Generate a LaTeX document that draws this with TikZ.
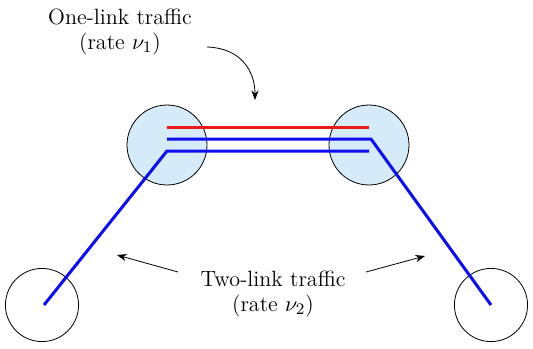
\documentclass[tikz,border=0pt]{standalone}
\usepackage{amsmath}
\usepackage{tikz}
\usetikzlibrary{positioning, arrows.meta, calc}
\definecolor{nodefill}{rgb}{0.84, 0.92, 0.98}
\definecolor{linkred}{rgb}{0.93, 0.10, 0.10}
\definecolor{linkblue}{rgb}{0.05, 0.05, 0.95}

\begin{document}
\begin{tikzpicture}[
    x=0.0175cm, y=-0.0175cm,
    every node/.style={font=\fontsize{11}{12.5}\selectfont, align=center},
    core/.style ={circle, draw=black, fill=nodefill, thin, minimum size=1.4cm, inner sep=0pt},
    edge/.style ={circle, draw=black, fill=white, thin, minimum size=1.28cm, inner sep=0pt},
    onelink/.style={draw=linkred, line width=1.5pt},
    twolink/.style={draw=linkblue, line width=1.5pt},
    arrow/.style ={-Stealth, thin, draw=black}
]
\useasboundingbox (0,0) rectangle (533,348);

% Nodes (circles)
\node[core] (lt) at (167,145) {};
\node[core] (rt) at (369,145) {};
\node[edge] (lb) at (42,305)  {};
\node[edge] (rb) at (491,305) {};

% Route points
\coordinate (r1a) at ($(lt)+(0,-18)$);
\coordinate (r1b) at ($(rt)+(0,-18)$);
\coordinate (b1a) at ($(lt)+(0,-6)$);
\coordinate (b1b) at ($(rt)+(2,-6)$);
\coordinate (b2a) at ($(lt)+(0,6)$);
\coordinate (b2b) at ($(rt)+(0,6)$);
\coordinate (lbend) at ($(lb)+(2,0)$);

% Traffic
\draw[onelink] (r1a) -- (r1b);
\draw[twolink] (b1a) -- (b1b) -- (rb.center);
\draw[twolink] (lbend) -- (b2a) -- (b2b);

% Labels
\node (one) at (120,32) {One-link traffic\\(rate $\nu_1$)};
\node (two) at (273,294) {Two-link traffic\\(rate $\nu_2$)};

% Arrows
\coordinate (onetail) at (207,47);
\coordinate (onehead) at (255,100);
\draw[arrow] (onetail) .. controls (240,48) and (255,70) .. (onehead);
\coordinate (twol) at (178,272);
\coordinate (twolhead) at (117,255);
\coordinate (twor) at (366,272);
\coordinate (tworhead) at (425,256);
\draw[arrow] (twol) -- (twolhead);
\draw[arrow] (twor) -- (tworhead);

\end{tikzpicture}
\end{document}
